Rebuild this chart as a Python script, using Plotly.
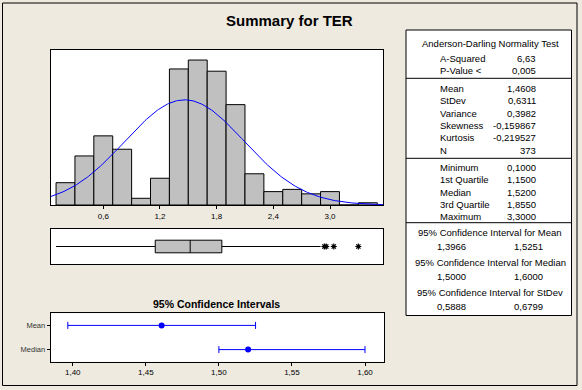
import numpy as np
import plotly.graph_objects as go

# ---------------- data ----------------
bin_mids = [0.2, 0.4, 0.6, 0.8, 1.0, 1.2, 1.4, 1.6, 1.8, 2.0, 2.2, 2.4, 2.6, 2.8, 3.0, 3.2, 3.4]
bin_counts = [10, 22, 31, 25, 3, 12, 61, 65, 60, 45, 14, 6, 7, 5, 6, 0, 1]
bin_width = 0.2
hist_ticks = [0.6, 1.2, 1.8, 2.4, 3.0]

mean_val = 1.4608
stdev_val = 0.6311
n_val = 373

box_min = 0.1
box_q1 = 1.15
box_median = 1.52
box_q3 = 1.855
box_whisker_hi = 2.9
box_outliers = [2.94, 2.96, 3.04, 3.30]

ci_names = ["Mean", "Median"]
ci_points = [1.4608, 1.52]
ci_lows = [1.3966, 1.5000]
ci_highs = [1.5251, 1.6000]

ad_labels = ["A-Squared", "P-Value <"]
ad_values = ["6,63", "0,005"]
desc_labels = ["Mean", "StDev", "Variance", "Skewness", "Kurtosis", "N"]
desc_values = ["1,4608", "0,6311", "0,3982", "-0,159867", "-0,219527", "373"]
quart_labels = ["Minimum", "1st Quartile", "Median", "3rd Quartile", "Maximum"]
quart_values = ["0,1000", "1,1500", "1,5200", "1,8550", "3,3000"]
ci_titles = ["95% Confidence Interval for Mean",
             "95% Confidence Interval for Median",
             "95% Confidence Interval for StDev"]
ci_low_txt = ["1,3966", "1,5000", "0,5888"]
ci_high_txt = ["1,5251", "1,6000", "0,6799"]

# ---------------- layout helpers ----------------
W, H = 582, 390
def px(x):
    return x / W
def py(y):
    return 1 - y / H

BG = "#EEEAE0"
FONT = "Liberation Sans"
HX = [0.0434, 3.561]

fig = go.Figure()

# histogram bars
fig.add_trace(go.Bar(x=bin_mids, y=bin_counts, width=bin_width,
                     marker=dict(color="#C0C0C0", line=dict(color="black", width=1)),
                     xaxis="x", yaxis="y", showlegend=False, hoverinfo="skip"))

# fitted normal curve
xc = np.linspace(HX[0], HX[1], 300)
yc = n_val * bin_width / (stdev_val * np.sqrt(2 * np.pi)) * np.exp(-0.5 * ((xc - mean_val) / stdev_val) ** 2)
fig.add_trace(go.Scatter(x=xc, y=yc, mode="lines", line=dict(color="#0000FF", width=1),
                         xaxis="x", yaxis="y", showlegend=False, hoverinfo="skip"))

# boxplot
fig.add_trace(go.Box(y=[0], q1=[box_q1], median=[box_median], q3=[box_q3],
                     lowerfence=[box_min], upperfence=[box_whisker_hi],
                     orientation="h", width=0.72, whiskerwidth=0,
                     fillcolor="#C0C0C0", line=dict(color="black", width=1),
                     xaxis="x2", yaxis="y2", showlegend=False, hoverinfo="skip"))
fig.add_trace(go.Scatter(x=box_outliers, y=[0] * len(box_outliers), mode="markers",
                         marker=dict(symbol="asterisk", size=5, color="black",
                                     line=dict(color="black", width=1.2)),
                         xaxis="x2", yaxis="y2", showlegend=False, hoverinfo="skip"))

# confidence intervals
fig.add_trace(go.Scatter(x=ci_points, y=ci_names, mode="markers",
                         marker=dict(color="#0000FF", size=6),
                         error_x=dict(type="data", symmetric=False,
                                      array=[h - p for h, p in zip(ci_highs, ci_points)],
                                      arrayminus=[p - l for p, l in zip(ci_points, ci_lows)],
                                      color="#0000FF", thickness=1, width=3.5),
                         xaxis="x3", yaxis="y3", showlegend=False, hoverinfo="skip"))

axis_common = dict(showline=True, mirror=True, linecolor="black", linewidth=1,
                   showgrid=False, zeroline=False)

fig.update_layout(
    width=W, height=H, margin=dict(l=0, r=0, t=0, b=0),
    paper_bgcolor=BG, plot_bgcolor="white",
    separators=",.",
    font=dict(family=FONT, color="black", size=9),
    xaxis=dict(domain=[px(50.7), px(383)], range=HX, tickvals=hist_ticks, tickformat=".1f",
               ticks="outside", ticklen=3, tickcolor="black", tickfont=dict(size=8),
               anchor="y", **axis_common),
    yaxis=dict(domain=[py(205), py(50)], range=[0, 69.5], showticklabels=False,
               ticks="", anchor="x", **axis_common),
    xaxis2=dict(domain=[px(50.7), px(383)], range=HX, showticklabels=False, ticks="",
                anchor="y2", **axis_common),
    yaxis2=dict(domain=[py(264), py(229)], range=[-1, 1], showticklabels=False, ticks="",
                anchor="x2", **axis_common),
    xaxis3=dict(domain=[px(50.7), px(384)], range=[1.3849, 1.613], tick0=1.40, dtick=0.05,
                tickformat=".2f", ticks="outside", ticklen=3, tickcolor="black",
                tickfont=dict(size=8), anchor="y3", **axis_common),
    yaxis3=dict(domain=[py(361.7), py(313.3)], type="category",
                categoryorder="array", categoryarray=["Median", "Mean"], range=[-0.5, 1.5],
                ticks="outside", ticklen=3, tickcolor="black",
                tickfont=dict(size=7.5, color="#333"), anchor="x3", **axis_common),
)

shapes = []
def line(x0, y0, x1, y1):
    shapes.append(dict(type="line", xref="paper", yref="paper",
                       x0=px(x0), y0=py(y0), x1=px(x1), y1=py(y1),
                       line=dict(color="black", width=1)))

def rect(x0, y0, x1, y1, fill=None):
    shapes.append(dict(type="rect", xref="paper", yref="paper",
                       x0=px(x0), y0=py(y0), x1=px(x1), y1=py(y1),
                       line=dict(color="black", width=1),
                       fillcolor=fill if fill else "rgba(0,0,0,0)", layer="below"))

# outer frame
rect(2.5, 3, 577, 385.5)
# table
rect(406, 30, 571.5, 315.5, fill="white")
for yy in [78.3, 158.3, 222.7]:
    line(406, yy, 571.5, yy)
fig.update_layout(shapes=shapes)

ann = []
def text(x, y, s, anchor="left", size=9.5, bold=False):
    ann.append(dict(x=px(x), y=py(y), xref="paper", yref="paper", text=("<b>%s</b>" % s) if bold else s,
                    showarrow=False, xanchor=anchor, yanchor="middle",
                    font=dict(family=FONT, size=size, color="black")))

text(289, 20, "Summary for TER", "center", 15, True)
text(216.7, 304, "95% Confidence Intervals", "center", 10.5, True)

text(490, 43.3, "Anderson-Darling Normality Test", "center")
for i, (l, v) in enumerate(zip(ad_labels, ad_values)):
    y = 58.3 + i * 12.4
    text(438.3, y, l)
    text(538.3, y, v, "right")
for i, (l, v) in enumerate(zip(desc_labels, desc_values)):
    y = 88.3 + i * 12.35
    text(438.3, y, l)
    text(538.3, y, v, "right")
for i, (l, v) in enumerate(zip(quart_labels, quart_values)):
    y = 167.3 + i * 12.35
    text(438.3, y, l)
    text(538.3, y, v, "right")
for i, (t, lo, hi) in enumerate(zip(ci_titles, ci_low_txt, ci_high_txt)):
    y = 232.3 + i * 30.2
    text(490, y, t, "center")
    text(435, y + 14.2, lo)
    text(511.7, y + 14.2, hi)

fig.update_layout(annotations=ann)
fig.write_html("out.html", config={"displayModeBar": False},
               post_script="document.body.style.margin='0';document.body.style.overflow='hidden';")
